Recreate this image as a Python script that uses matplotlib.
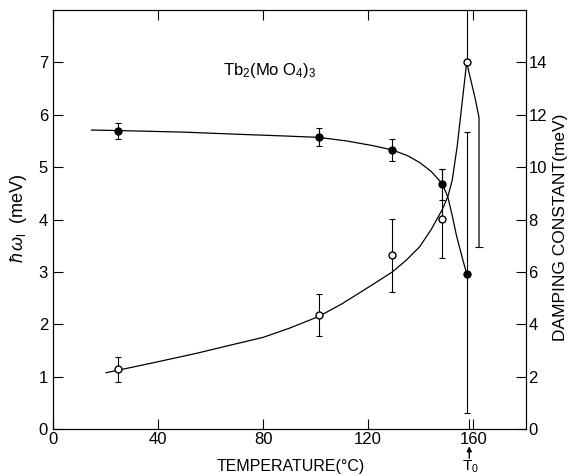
import numpy as np
import matplotlib
matplotlib.use('Agg')
import matplotlib.pyplot as plt

plt.rcParams['font.family'] = ['Liberation Sans', 'DejaVu Sans']
plt.rcParams['mathtext.fontset'] = 'custom'
plt.rcParams['mathtext.rm'] = 'Liberation Sans'
plt.rcParams['mathtext.it'] = 'Liberation Sans:italic'

# 能量 (左轴, meV) —— 实心点
temp_energy = [24.6, 101.2, 129.2, 148.1, 157.5]
energy = [5.70, 5.58, 5.33, 4.67, 2.97]
energy_err_lo = [0.17, 0.17, 0.22, 0.30, 2.67]
energy_err_hi = [0.14, 0.16, 0.20, 0.29, 2.70]

# 阻尼常数 (右轴, meV) —— 空心点
temp_damp = [24.9, 101.2, 129.2, 148.3, 157.5]
damping = [2.30, 4.36, 6.64, 8.03, 14.0]
damp_err_lo = [0.51, 0.80, 1.40, 1.49, 0.0]
damp_err_hi = [0.46, 0.79, 1.38, 1.89, 3.0]

# 手绘拟合曲线
curve_energy_t = [14.7, 25, 50, 70, 86.4, 101.2, 112, 122, 129.2, 135, 139.6, 144.0,
                  148.3, 150.4, 152.0, 153.6, 155.0, 156.1, 157.5]
curve_energy = [5.71, 5.70, 5.67, 5.63, 5.60, 5.57, 5.50, 5.41, 5.33, 5.22, 5.09, 4.92,
                4.68, 4.42, 4.08, 3.70, 3.43, 3.22, 2.97]

curve_damp_t = [20.2, 25, 40, 55, 67.4, 80, 90, 101.2, 110, 117, 123, 129.2, 134.5,
                139.6, 144.0, 148.3, 150.4, 152.0, 153.9, 155.7, 157.5, 160.8, 162.2,
                162.2]
curve_damp = [2.15, 2.25, 2.57, 2.90, 3.20, 3.50, 3.85, 4.30, 4.78, 5.22, 5.60, 6.00,
              6.45, 6.96, 7.62, 8.40, 8.90, 9.50, 10.80, 12.40, 14.0, 12.6, 11.9, 6.96]

x_ticks = [0, 40, 80, 120, 160]
left_ticks = [0, 1, 2, 3, 4, 5, 6, 7]
right_ticks = [0, 2, 4, 6, 8, 10, 12, 14]
T0 = 158.5

fig = plt.figure(figsize=(5.69, 4.76), dpi=100)
ax = fig.add_axes([0.093, 0.0987, 0.831, 0.880])
ax2 = ax.twinx()

lw = 0.9
ax.plot(curve_energy_t, curve_energy, color='black', lw=lw, zorder=2)
ax.errorbar(temp_energy, energy, yerr=[energy_err_lo, energy_err_hi], fmt='o',
            color='black', ms=5, elinewidth=0.8, capsize=2.5, capthick=0.8, zorder=3)

ax2.plot(curve_damp_t, curve_damp, color='black', lw=lw, zorder=2)
ax2.plot([curve_damp_t[-1]], [curve_damp[-1]], marker='_', ms=6, mew=0.8, color='black')
ax2.errorbar(temp_damp, damping, yerr=[damp_err_lo, damp_err_hi], fmt='o',
             color='black', mfc='white', ms=5, elinewidth=0.8, capsize=2.5,
             capthick=0.8, zorder=3)

ax.set_xlim(0, 180)
ax.set_ylim(0, 8)
ax2.set_ylim(0, 16)

ax.set_xticks(x_ticks)
ax.set_xticklabels([str(t) for t in x_ticks])
ax.set_xticks([T0], minor=True)
ax.set_yticks(left_ticks)
ax2.set_yticks(right_ticks)

ax.tick_params(axis='both', which='major', direction='in', length=7, width=0.8,
               labelsize=12, top=True)
ax.tick_params(axis='x', which='minor', direction='in', length=7, width=0.8,
               top=False, bottom=True)
ax.tick_params(axis='y', right=False)
ax2.tick_params(axis='y', direction='in', length=7, width=0.8, labelsize=12, pad=2)
ax.tick_params(axis='x', pad=2)

for s in list(ax.spines.values()) + list(ax2.spines.values()):
    s.set_linewidth(0.8)

ax.text(64.7, 6.85, r'Tb$_2$(Mo O$_4$)$_3$', fontsize=12, va='center', ha='left')

fig.text(291 / 569, 1 - 466 / 476, 'TEMPERATURE(°C)', fontsize=11.5,
         ha='center', va='center')
fig.text(19 / 569, 1 - 218 / 476, r'$\hbar\,\omega_\mathrm{l}$  (meV)', fontsize=13,
         rotation=90, ha='center', va='center')
fig.text(561 / 569, 1 - 227 / 476, 'DAMPING CONSTANT(meV)', fontsize=12.5,
         rotation=90, ha='center', va='center')

# T0 标记
ax.annotate('', xy=(T0, -0.33), xytext=(T0, -0.56), xycoords='data',
            arrowprops=dict(arrowstyle='-|>', color='black', lw=1.0,
                            mutation_scale=7, shrinkA=0, shrinkB=0),
            annotation_clip=False)
ax.text(T0 + 0.5, -0.57, r'T$_0$', fontsize=11, ha='center', va='top', clip_on=False)

fig.savefig('out.png', dpi=100, facecolor='white')
